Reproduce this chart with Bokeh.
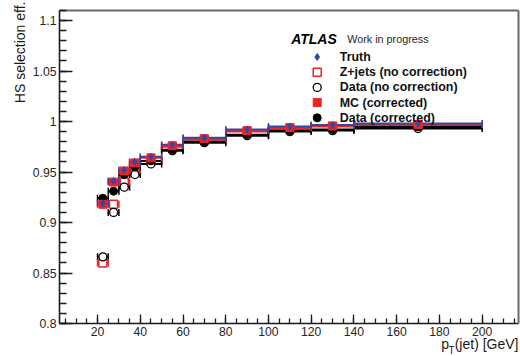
import numpy as np
from bokeh.plotting import figure
from bokeh.models import (Range1d, FixedTicker, CustomJSTickFormatter, Whisker,
                          TeeHead, ColumnDataSource, Label, LinearAxis)
from bokeh.embed import file_html
from bokeh.resources import INLINE

# ---------------- data ----------------
bin_lo = [20, 25, 30, 35, 40, 50, 60, 80, 100, 120, 140]
bin_hi = [25, 30, 35, 40, 50, 60, 80, 100, 120, 140, 200]
truth = [0.919, 0.941, 0.952, 0.960, 0.965, 0.977, 0.984, 0.992, 0.995, 0.9965, 0.998]
zjets_nc = [0.860, 0.918, 0.940, 0.952, 0.961, 0.975, 0.982, 0.990, 0.993, 0.995, 0.996]
data_nc = [0.866, 0.910, 0.935, 0.9475, 0.958, 0.971, 0.979, 0.986, 0.990, 0.991, 0.993]
mc_corr = [0.918, 0.940, 0.951, 0.959, 0.964, 0.976, 0.983, 0.991, 0.994, 0.9955, 0.997]
data_corr = [0.924, 0.931, 0.9475, 0.955, 0.961, 0.972, 0.980, 0.987, 0.991, 0.992, 0.9945]
mc_yerr = [0.004, 0.002, 0.0015, 0.0015, 0.001, 0.001, 0.001, 0.001, 0.001, 0.001, 0.001]

x_ticks = [20, 40, 60, 80, 100, 120, 140, 160, 180, 200]
y_ticks = [0.8, 0.85, 0.9, 0.95, 1.0, 1.05, 1.1]
x_label = "(jet) [GeV]"
y_label = "HS selection eff."
legend_labels = ["Truth", "Z+jets (no correction)", "Data (no correction)",
                 "MC (corrected)", "Data (corrected)"]

# ---------------- layout ----------------
W, H = 520, 356
# axis box edges (data) and where they sit on the canvas (pixels)
XL, XR = 2.2, 217.0
PX_L, PX_R = 59, 518
YB = 0.8
PY_B, PY_TICK_TOP = 323, 20        # y=0.8 and y=1.1 rows
PY_T = 10
SX = (XR - XL) / (PX_R - PX_L)          # data units per pixel (x)
SY = (1.1 - YB) / (PY_B - PY_TICK_TOP)  # data units per pixel (y)
X0, X1 = XL - PX_L * SX, XL + (W - PX_L) * SX
Y0, Y1 = YB - (H - PY_B) * SY, YB + PY_B * SY
YT = YB + (PY_B - PY_T) * SY


def px2x(px):
    return X0 + px * SX


def py2y(py):
    return Y1 - py * SY


FONT = "Liberation Sans"
BLUE = "#3048a8"
RED = "#ee2226"
BLACK = "#000000"
AXC = "#1a1a1a"
FRAMEC = "#6a6a6a"

p = figure(width=W, height=H, x_range=Range1d(X0, X1), y_range=Range1d(Y0, Y1),
           output_backend="svg", toolbar_location=None,
           min_border_left=0, min_border_right=0, min_border_top=0, min_border_bottom=0)
p.grid.visible = False
p.background_fill_color = "white"
p.border_fill_color = "white"
p.outline_line_color = None

# main axes, pinned to the data box
p.xaxis.fixed_location = YB
p.xaxis.bounds = (XL, XR)
p.yaxis.fixed_location = XL
p.yaxis.bounds = (YB, YT)
p.xaxis.ticker = FixedTicker(ticks=x_ticks, minor_ticks=list(range(5, 220, 5)))
p.yaxis.ticker = FixedTicker(ticks=y_ticks,
                             minor_ticks=[round(0.8 + 0.01 * i, 2) for i in range(32)])
p.yaxis.formatter = CustomJSTickFormatter(code="return String(Math.round(tick*100)/100)")
for ax in (p.xaxis[0], p.yaxis[0]):
    ax.axis_line_color = AXC
    ax.axis_line_width = 1.6
    ax.major_tick_line_color = AXC
    ax.minor_tick_line_color = AXC
    ax.major_tick_line_width = 1.3
    ax.minor_tick_line_width = 1.3
    ax.major_tick_out = 0
    ax.minor_tick_out = 0
    ax.major_label_text_font = FONT
    ax.major_label_text_font_size = "12.2px"
    ax.major_label_text_color = "#262626"
    ax.major_label_standoff = 3
p.xaxis.major_tick_in = 9
p.xaxis.minor_tick_in = 5
p.yaxis.major_tick_in = 13
p.yaxis.minor_tick_in = 7

# top and right frame edges
top = LinearAxis(fixed_location=YT, bounds=(XL, XR), ticker=FixedTicker(ticks=[]),
                 axis_line_color=FRAMEC, axis_line_width=2,
                 major_tick_line_color=None, minor_tick_line_color=None,
                 major_label_text_font_size="0px", major_label_standoff=0)
right = LinearAxis(fixed_location=XR, bounds=(YB, YT), ticker=FixedTicker(ticks=[]),
                   axis_line_color=FRAMEC, axis_line_width=2,
                   major_tick_line_color=None, minor_tick_line_color=None,
                   major_label_text_font_size="0px", major_label_standoff=0)
p.add_layout(top, "above")
p.add_layout(right, "right")

# ---------------- data marks ----------------
src = ColumnDataSource(dict(
    lo=bin_lo, hi=bin_hi, x=[(a + b) / 2 for a, b in zip(bin_lo, bin_hi)],
    truth=truth, zjets_nc=zjets_nc, data_nc=data_nc, mc_corr=mc_corr, data_corr=data_corr,
    mc_lo=[v - e for v, e in zip(mc_corr, mc_yerr)],
    mc_hi=[v + e for v, e in zip(mc_corr, mc_yerr)],
))


def hbar(col, color):
    p.add_layout(Whisker(source=src, base=col, lower="lo", upper="hi", dimension="width",
                         line_color=color, line_width=2,
                         lower_head=TeeHead(size=7, line_color=color, line_width=1.5),
                         upper_head=TeeHead(size=7, line_color=color, line_width=1.5)))


hbar("data_nc", BLACK)
hbar("zjets_nc", RED)
hbar("data_corr", BLACK)
hbar("mc_corr", RED)
hbar("truth", BLUE)
p.add_layout(Whisker(source=src, base="x", lower="mc_lo", upper="mc_hi", dimension="height",
                     line_color=RED, line_width=1.5,
                     lower_head=None, upper_head=None))

p.scatter("x", "zjets_nc", source=src, marker="square", size=8, fill_color="white",
          line_color=RED, line_width=1.5)
p.scatter("x", "data_nc", source=src, marker="circle", size=8, fill_color="white",
          line_color=BLACK, line_width=1.3)
p.scatter("x", "data_corr", source=src, marker="circle", size=8, fill_color=BLACK,
          line_color=BLACK)
p.scatter("x", "mc_corr", source=src, marker="square", size=8, fill_color=RED,
          line_color=RED)
p.scatter("x", "truth", source=src, marker="diamond", size=7, fill_color=BLUE,
          line_color=BLUE)

# ---------------- axis titles ----------------
p.add_layout(Label(x=px2x(19.5), y=py2y(1), text=y_label, angle=np.pi / 2,
                   text_align="right", text_baseline="alphabetic", text_font=FONT,
                   text_font_size="14px", text_color=AXC))
p.add_layout(Label(x=px2x(518), y=py2y(343.5), text=x_label,
                   text_align="right", text_baseline="alphabetic", text_font=FONT,
                   text_font_size="14px", text_color=AXC))
p.add_layout(Label(x=px2x(448.5), y=py2y(343.5), text="p",
                   text_align="right", text_baseline="alphabetic", text_font=FONT,
                   text_font_size="14px", text_color=AXC))
p.add_layout(Label(x=px2x(448), y=py2y(350), text="T",
                   text_align="left", text_baseline="alphabetic", text_font=FONT,
                   text_font_size="10px", text_color=AXC))

# ---------------- ATLAS label and legend ----------------
p.add_layout(Label(x=px2x(290.7), y=py2y(38), text="ATLAS", text_align="left",
                   text_baseline="alphabetic", text_font=FONT, text_font_size="14px",
                   text_font_style="bold italic", text_color="#000000"))
p.add_layout(Label(x=px2x(346.7), y=py2y(38), text="Work in progress", text_align="left",
                   text_baseline="alphabetic", text_font=FONT, text_font_size="10.8px",
                   text_color="#262626"))

leg_rows = [56.5, 71.7, 86.9, 102.1, 117.3]
leg_styles = [
    dict(marker="diamond", size=7, fill_color=BLUE, line_color=BLUE, line_width=1),
    dict(marker="square", size=8, fill_color="white", line_color=RED, line_width=1.5),
    dict(marker="circle", size=8, fill_color="white", line_color=BLACK, line_width=1.3),
    dict(marker="square", size=8, fill_color=RED, line_color=RED, line_width=1),
    dict(marker="circle", size=8, fill_color=BLACK, line_color=BLACK, line_width=1),
]
for row, lab, st in zip(leg_rows, legend_labels, leg_styles):
    p.scatter([px2x(316.7)], [py2y(row)], **st)
    p.add_layout(Label(x=px2x(339.3), y=py2y(row), text=lab, text_align="left",
                       text_baseline="middle", text_font=FONT, text_font_size="12.4px",
                       text_font_style="bold", text_color="#111111"))

open("out.html", "w").write(file_html(p, INLINE))
